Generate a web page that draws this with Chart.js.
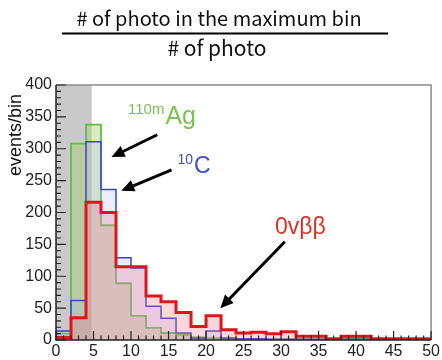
<!DOCTYPE html>
<html>
<head>
<meta charset="utf-8">
<script src="https://cdn.jsdelivr.net/npm/chart.js@4.4.0/dist/chart.umd.min.js"></script>
<style>
  html, body { margin: 0; padding: 0; background: #fff; }
  #wrap { position: relative; width: 442px; height: 360px; }
</style>
</head>
<body>
<div id="wrap"><canvas id="c" width="442" height="360"></canvas></div>
<script>
// bin edges (width 2) and contents
var binEdges = [0,2,4,6,8,10,12,14,16,18,20,22,24,26,28,30,32,34,36,38,40,42,44,46,48,50];
var agCounts = [10,308,338,180,89,38,19,11,8,4,3,2,1,1,1,1,1,1,1,3,3,0,0,0,0];
var cCounts  = [14,62,311,236,129,113,53,34,11,3,14,3,2,2,1,1,1,1,1,1,1,1,1,0,0];
var bbCounts = [4,35,216,200,115,115,69,60,43,21,38,16,11,12,10,13,6,6,2,6,6,2,2,2,2];
var xTicks = [0,5,10,15,20,25,30,35,40,45,50];
var yTicks = [0,50,100,150,200,250,300,350,400];
var cutRange = [0, 4.75];

// annotations, in data coordinates
var arrows = [
    { from: [13.5, 322], to: [7.4, 287] },
    { from: [15.4, 267], to: [8.7, 234] },
    { from: [30.5, 154], to: [21.9, 50] }
];

function histPoints( counts ){
    var pts = [ { x: binEdges[0], y: 0 } ];
    for( var i = 0; i < counts.length; i++ ) pts.push( { x: binEdges[i], y: counts[i] } );
    pts.push( { x: binEdges[binEdges.length-1], y: counts[counts.length-1] } );
    pts.push( { x: binEdges[binEdges.length-1], y: 0 } );
    return pts;
}

var decor = {
    id: 'decor',
    beforeDatasetsDraw: function( chart ){
        var ctx = chart.ctx, xs = chart.scales.x, a = chart.chartArea;
        ctx.save();
        ctx.fillStyle = '#c9c9c9';
        var x0 = xs.getPixelForValue( cutRange[0] ), x1 = xs.getPixelForValue( cutRange[1] );
        ctx.fillRect( x0, a.top, x1 - x0, a.bottom - a.top );
        ctx.restore();
    },
    afterDatasetsDraw: function( chart ){
        var ctx = chart.ctx, xs = chart.scales.x, ys = chart.scales.y, a = chart.chartArea, v, p, len;
        ctx.save();
        // frame
        ctx.strokeStyle = '#8a8a8a';
        ctx.lineWidth = 1.5;
        ctx.beginPath();
        ctx.moveTo( a.left, a.top ); ctx.lineTo( a.right, a.top ); ctx.lineTo( a.right, a.bottom );
        ctx.stroke();
        ctx.strokeStyle = '#222';
        ctx.beginPath();
        ctx.moveTo( a.left, a.top ); ctx.lineTo( a.left, a.bottom ); ctx.lineTo( a.right, a.bottom );
        ctx.stroke();
        // ticks, inside the frame
        ctx.lineWidth = 1.2;
        ctx.beginPath();
        for( v = 0; v <= 400; v += 10 ){
            p = ys.getPixelForValue( v );
            len = ( v % 50 == 0 ) ? 10 : 5;
            ctx.moveTo( a.left, p ); ctx.lineTo( a.left + len, p );
        }
        for( v = 0; v <= 50; v += 1 ){
            p = xs.getPixelForValue( v );
            len = ( v % 5 == 0 ) ? 9 : 4.5;
            ctx.moveTo( p, a.bottom ); ctx.lineTo( p, a.bottom - len );
        }
        ctx.stroke();

        // arrows
        ctx.strokeStyle = '#000';
        ctx.fillStyle = '#000';
        arrows.forEach( function( ar ){
            var fx = xs.getPixelForValue( ar.from[0] ), fy = ys.getPixelForValue( ar.from[1] ),
                tx = xs.getPixelForValue( ar.to[0] ), ty = ys.getPixelForValue( ar.to[1] ),
                ang = Math.atan2( ty - fy, tx - fx ), hl = 13, hw = 6;
            ctx.lineWidth = 3;
            ctx.beginPath();
            ctx.moveTo( fx, fy );
            ctx.lineTo( tx - Math.cos( ang ) * hl * 0.8, ty - Math.sin( ang ) * hl * 0.8 );
            ctx.stroke();
            ctx.beginPath();
            ctx.moveTo( tx, ty );
            ctx.lineTo( tx - Math.cos( ang ) * hl + Math.sin( ang ) * hw, ty - Math.sin( ang ) * hl - Math.cos( ang ) * hw );
            ctx.lineTo( tx - Math.cos( ang ) * hl - Math.sin( ang ) * hw, ty - Math.sin( ang ) * hl + Math.cos( ang ) * hw );
            ctx.closePath();
            ctx.fill();
        } );

        // labels
        var lx, ly;
        ctx.textBaseline = 'alphabetic';
        ctx.textAlign = 'left';
        lx = xs.getPixelForValue( 9.6 ); ly = ys.getPixelForValue( 339 );
        ctx.fillStyle = '#7cc152';
        ctx.font = '15px "Liberation Sans", Arial, sans-serif';
        ctx.fillText( '110m', lx, ly - 10 );
        lx += ctx.measureText( '110m' ).width + 1;
        ctx.font = '25px "Liberation Sans", Arial, sans-serif';
        ctx.fillText( 'Ag', lx, ly );

        lx = xs.getPixelForValue( 16.2 ); ly = ys.getPixelForValue( 262 );
        ctx.fillStyle = '#3a4fd0';
        ctx.font = '14px "Liberation Sans", Arial, sans-serif';
        ctx.fillText( '10', lx, ly - 9 );
        lx += ctx.measureText( '10' ).width + 1;
        ctx.font = '23px "Liberation Sans", Arial, sans-serif';
        ctx.fillText( 'C', lx, ly );

        lx = xs.getPixelForValue( 29.2 ); ly = ys.getPixelForValue( 166 );
        ctx.fillStyle = '#d93326';
        ctx.font = '23px "Liberation Sans", Arial, sans-serif';
        ctx.fillText( '0v\u03b2\u03b2', lx, ly );

        // y axis title
        ctx.save();
        ctx.translate( 21, 135 );
        ctx.rotate( -Math.PI / 2 );
        ctx.textAlign = 'center';
        ctx.textBaseline = 'alphabetic';
        ctx.fillStyle = '#111';
        ctx.font = '18px "Liberation Sans", Arial, sans-serif';
        ctx.fillText( 'events/bin', 0, 0 );
        ctx.restore();

        // fraction title
        ctx.fillStyle = '#111';
        ctx.textAlign = 'center';
        ctx.font = '20px "Noto Sans CJK JP", "Noto Sans", sans-serif';
        ctx.fillText( '# of photo in the maximum bin', 219, 26 );
        ctx.font = '21px "Noto Sans CJK JP", "Noto Sans", sans-serif';
        ctx.fillText( '# of photo', 217, 56 );
        ctx.lineWidth = 2;
        ctx.beginPath();
        ctx.moveTo( 62, 33.5 ); ctx.lineTo( 388, 33.5 );
        ctx.stroke();
        ctx.restore();
    }
};

new Chart( document.getElementById( 'c' ).getContext( '2d' ), {
    type: 'line',
    data: {
        datasets: [
            { label: '0vbb', data: histPoints( bbCounts ), stepped: 'before', borderColor: '#e0141a', borderWidth: 3, backgroundColor: 'rgba(236,110,130,0.28)', fill: 'origin' },
            { label: '10C', data: histPoints( cCounts ), stepped: 'before', borderColor: '#3548c8', borderWidth: 1.5, backgroundColor: 'rgba(170,185,250,0.25)', fill: 'origin' },
            { label: '110mAg', data: histPoints( agCounts ), stepped: 'before', borderColor: '#5cc04a', borderWidth: 1.8, backgroundColor: 'rgba(170,205,110,0.4)', fill: 'origin' }
        ]
    },
    options: {
        responsive: false,
        animation: false,
        devicePixelRatio: 1,
        layout: { padding: { top: 85, right: 7, left: 0, bottom: 0 } },
        elements: { point: { radius: 0 }, line: { tension: 0 } },
        plugins: { legend: { display: false }, tooltip: { enabled: false } },
        scales: {
            x: {
                type: 'linear', min: 0, max: 50,
                afterFit: function( s ){ s.height = 20; },
                afterBuildTicks: function( s ){ s.ticks = xTicks.map( function( v ){ return { value: v }; } ); },
                grid: { display: false, drawTicks: false }, border: { display: false },
                ticks: { padding: 2, maxRotation: 0, autoSkip: false, color: '#222', font: { family: '"Liberation Sans", Arial, sans-serif', size: 16 } }
            },
            y: {
                min: 0, max: 400,
                afterFit: function( s ){ s.width = 56; },
                afterBuildTicks: function( s ){ s.ticks = yTicks.map( function( v ){ return { value: v }; } ); },
                grid: { display: false, drawTicks: false }, border: { display: false },
                ticks: { padding: 4, color: '#222', font: { family: '"Liberation Sans", Arial, sans-serif', size: 16 } }
            }
        }
    },
    plugins: [ decor ]
} );
</script>
</body>
</html>
